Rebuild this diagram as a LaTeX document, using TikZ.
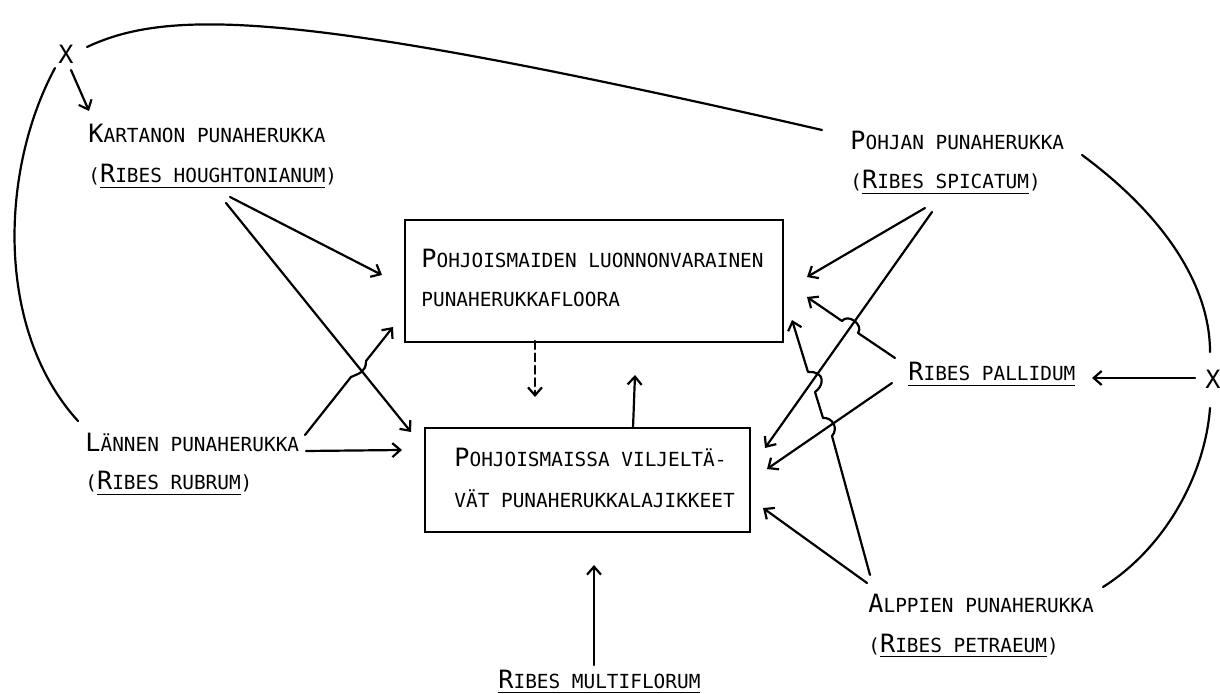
\documentclass[tikz,border=0pt]{standalone}
\usepackage{fontspec}
\newfontfamily\tw{DejaVu Sans Mono}
\usetikzlibrary{arrows.meta,calc}
\newcommand\Bg[1]{{\fontsize{12.6pt}{14pt}\selectfont #1}}
\newcommand\ul[1]{\setbox0=\hbox{#1}\rlap{\rule[-2.7pt]{\wd0}{0.9pt}}\box0}
\begin{document}
\begin{tikzpicture}[x=0.5pt,y=-0.5pt,
  lbl/.style={anchor=base west, inner sep=0pt, font=\tw\fontsize{9.7pt}{11pt}\selectfont},
  xmark/.style={inner sep=0pt, font=\tw\fontsize{12.6pt}{14pt}\selectfont},
  ln/.style={line width=1.1pt, line cap=round, line join=round},
  arr/.style={ln, -{Straight Barb[length=4pt,width=7pt,line width=1.1pt]}},
  dasharr/.style={arr, dash pattern=on 4pt off 2.2pt},
  box/.style={draw, line width=1.4pt, inner sep=0pt}
]
\fill[white] (0,0) rectangle (1220,694);
\useasboundingbox (0,0) rectangle (1220,694);

% boxes
\node[box, minimum width=189pt, minimum height=61pt] (b1) at (594,281) {};
\node[box, minimum width=162.5pt, minimum height=52pt] (b2) at (587.5,480) {};

% texts
\node[lbl] (b1a) at (421,268) {\Bg{P}OHJOISMAIDEN LUONNONVARAINEN};
\node[lbl] (b1b) at (421,307) {PUNAHERUKKAFLOORA};
\node[lbl] (b2a) at (454,467) {\Bg{P}OHJOISMAISSA VILJELTÄ-};
\node[lbl] (b2b) at (454,508) {VÄT PUNAHERUKKALAJIKKEET};

\node[lbl] (kart1) at (88,143) {\Bg{K}ARTANON PUNAHERUKKA};
\node[lbl] (kart2) at (88,183) {(\ul{\Bg{R}IBES HOUGHTONIANUM})};
\node[lbl] (pohj1) at (850,150) {\Bg{P}OHJAN PUNAHERUKKA};
\node[lbl] (pohj2) at (850,189) {(\ul{\Bg{R}IBES SPICATUM})};
\node[lbl] (pall) at (908,381) {\ul{\Bg{R}IBES PALLIDUM}};
\node[lbl] (lann1) at (85,452) {\Bg{L}ÄNNEN PUNAHERUKKA};
\node[lbl] (lann2) at (85,490) {(\ul{\Bg{R}IBES RUBRUM})};
\node[lbl] (alp1) at (868,612) {\Bg{A}LPPIEN PUNAHERUKKA};
\node[lbl] (alp2) at (868,652) {(\ul{\Bg{R}IBES PETRAEUM})};
\node[lbl] (multi) at (498,688) {\ul{\Bg{R}IBES MULTIFLORUM}};

\node[xmark] (xl) at (66,54) {X};
\node[xmark] (xr) at (1213,379) {X};

% free ends of the connectors
\coordinate (xlE) at (87,47);
\coordinate (xlS) at (55,68);
\coordinate (xlSE) at (71,70);
\coordinate (kartN) at (89,111);
\coordinate (pohjW) at (822,130);
\coordinate (pohjE) at (1082,155);
\coordinate (lannNW) at (78,421);
\coordinate (xrN) at (1210,352);
\coordinate (xrS) at (1210,408);
\coordinate (xrW) at (1195,378);
\coordinate (pallE) at (1092,378);
\coordinate (alpNE) at (1103,587);

\coordinate (kartA) at (230,197);
\coordinate (kartB) at (226,203);
\coordinate (lannA) at (305,435);
\coordinate (lannB) at (306,451);
\coordinate (pohjA) at (925,208);
\coordinate (pohjB) at (932,212);
\coordinate (pallA) at (895,358);
\coordinate (pallB) at (892,383);
\coordinate (alpA) at (870,575);
\coordinate (alpB) at (867,583);
\coordinate (multiN) at (594,665);

\coordinate (b1L1) at (382,275);
\coordinate (b1L2) at (393,327);
\coordinate (b1R1) at (807,277);
\coordinate (b1R2) at (807,297);
\coordinate (b1R3) at (792,320);
\coordinate (b1B) at (535,341);
\coordinate (b1Bin) at (635,375);
\coordinate (b2L1) at (411,432);
\coordinate (b2L2) at (402,450);
\coordinate (b2T) at (535,397);
\coordinate (b2Tout) at (633,428);
\coordinate (b2R1) at (765,448);
\coordinate (b2R2) at (767,469);
\coordinate (b2R3) at (763,508);
\coordinate (b2S) at (594,565);

% curves
\draw[ln] (xlE) .. controls (170,8) and (300,10) .. (pohjW);
\draw[ln] (xlS) .. controls (0,170) and (-5,330) .. (lannNW);
\draw[arr] (xlSE) -- (kartN);
\draw[ln] (pohjE) .. controls (1170,220) and (1210,290) .. (xrN);
\draw[ln] (xrS) .. controls (1205,475) and (1165,548) .. (alpNE);
\draw[arr] (xrW) -- (pallE);

% left side
\draw[arr] (kartA) -- (b1L1);
\draw[arr] (kartB) -- (b2L1);
\draw[arr] (lannA) -- (351,377) .. controls (360,373) and (366,372) .. (366,361) -- (b1L2);
\draw[arr] (lannB) -- (b2L2);

% middle
\draw[dasharr] (b1B) -- (b2T);
\draw[arr] (b2Tout) -- (b1Bin);
\draw[arr] (multiN) -- (b2S);

% right side
\draw[arr] (pohjA) -- (b1R1);
\draw[arr] (pohjB) -- (b2R1);
\draw[arr] (pallA) -- (858,333) .. controls (864,325) and (848,313) .. (842,321) -- (b1R2);
\draw[arr] (pallB) -- (b2R2);
\draw[arr] (alpA) -- (832,436) .. controls (839,428) and (832,417) .. (823,418)
   -- (815,392) .. controls (824,386) and (826,371) .. (808,372) -- (b1R3);
\draw[arr] (alpB) -- (b2R3);
\end{tikzpicture}
\end{document}
